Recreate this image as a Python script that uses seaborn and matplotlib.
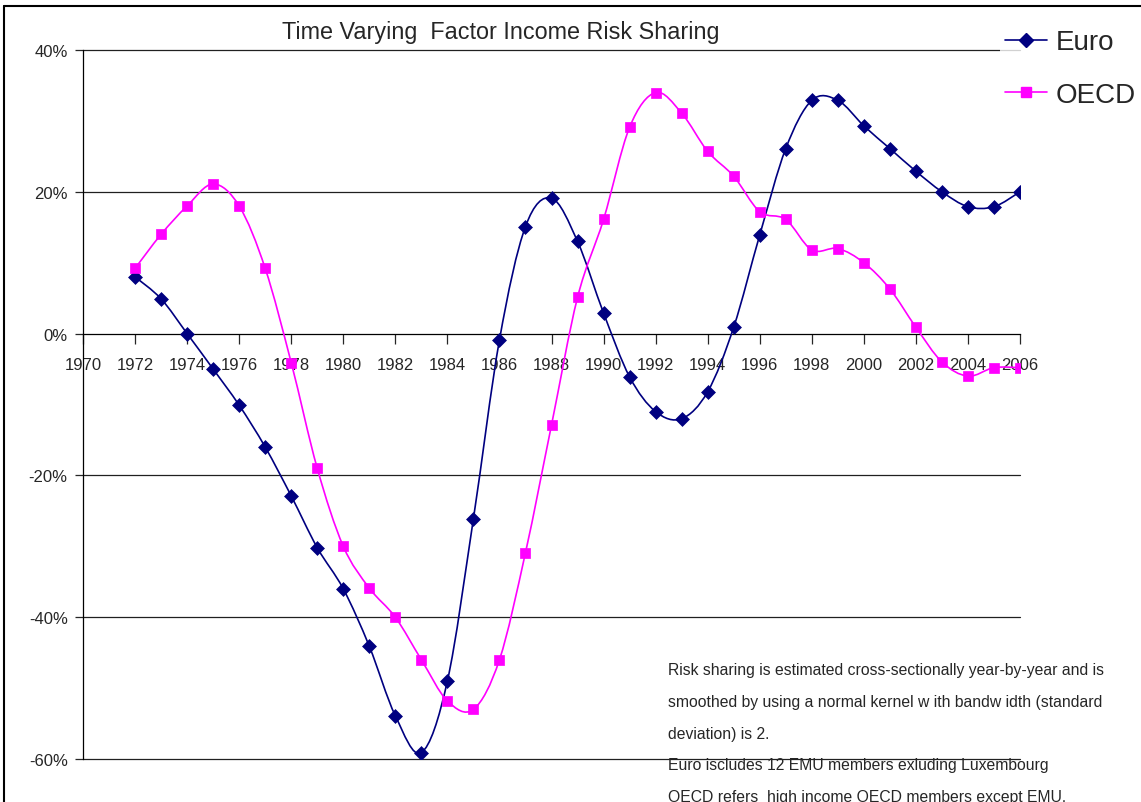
import numpy as np
import pandas as pd
import seaborn as sns
import matplotlib.pyplot as plt
from matplotlib.path import Path
from matplotlib.patches import PathPatch
from matplotlib.lines import Line2D

# ===== data (risk sharing, %) =====
years = list(range(1972, 2007))
euro = [8.0, 4.9, 0.0, -5.0, -10.1, -16.0, -22.9, -30.2, -36.0, -44.1,
        -53.9, -59.1, -49.0, -26.1, -0.9, 15.1, 19.1, 13.0, 2.9, -6.1,
        -11.0, -12.0, -8.2, 0.9, 13.9, 26.1, 32.9, 32.9, 29.3, 26.1,
        22.9, 20.0, 17.9, 17.9, 20.0]
oecd = [9.2, 14.0, 18.0, 21.1, 18.0, 9.2, -4.1, -19.0, -30.0, -35.9,
        -40.0, -46.0, -51.8, -53.0, -46.0, -30.9, -12.9, 5.1, 16.1, 29.1,
        34.0, 31.1, 25.7, 22.2, 17.2, 16.1, 11.8, 12.0, 10.0, 6.3,
        0.9, -4.0, -6.0, -4.8, -4.8]
series_names = ['Euro', 'OECD']
xtick_years = list(range(1970, 2007, 2))
ytick_values = [-60, -40, -20, 0, 20, 40]
ytick_labels = ['-60%', '-40%', '-20%', '0%', '20%', '40%']

title = 'Time Varying  Factor Income Risk Sharing'
note = ('Risk sharing is estimated cross-sectionally year-by-year and is\n'
        'smoothed by using a normal kernel w ith bandw idth (standard\n'
        'deviation) is 2.\n'
        'Euro iscludes 12 EMU members exluding Luxembourg\n'
        'OECD refers  high income OECD members except EMU.')

df = pd.DataFrame({'year': years * 2,
                   'value': euro + oecd,
                   'series': ['Euro'] * len(years) + ['OECD'] * len(years)})

colors = {'Euro': '#000080', 'OECD': '#FF00FF'}
markers = {'Euro': 'D', 'OECD': 's'}

sns.set_style('white')
plt.rcParams['font.family'] = ['Liberation Sans', 'DejaVu Sans']


def smooth_path(x, y):
    # Excel style smoothed line: cubic bezier through each point
    pts = np.column_stack([x, y]).astype(float)
    ext = np.vstack([pts[0], pts, pts[-1]])
    verts = [pts[0]]
    codes = [Path.MOVETO]
    for i in range(len(pts) - 1):
        p0, p1, p2, p3 = ext[i], ext[i + 1], ext[i + 2], ext[i + 3]
        verts += [p1 + (p2 - p0) / 6, p2 - (p3 - p1) / 6, p2]
        codes += [Path.CURVE4] * 3
    return Path(verts, codes)


fig = plt.figure(figsize=(11.41, 8.03), dpi=100)
ax = fig.add_axes([83 / 1141, 1 - 760 / 803, (1020 - 83) / 1141, (760 - 51) / 803])

for name in series_names:
    sub = df[df['series'] == name]
    ax.add_patch(PathPatch(smooth_path(sub['year'], sub['value']), fill=False,
                           edgecolor=colors[name], lw=1.2, zorder=3))
    sns.scatterplot(data=sub, x='year', y='value', ax=ax, color=colors[name],
                    marker=markers[name], s=55 if name == 'OECD' else 50,
                    edgecolor=colors[name], linewidth=0.5, zorder=4, legend=False)

ax.set_xlim(1970, 2006)
ax.set_ylim(-60, 40)
ax.set_xlabel('')
ax.set_ylabel('')

# x axis runs along the zero line
for s in ['top', 'right']:
    ax.spines[s].set_visible(False)
ax.spines['bottom'].set_position(('data', 0))
ax.spines['bottom'].set_color('black')
ax.spines['bottom'].set_linewidth(0.9)
ax.spines['left'].set_color('black')
ax.spines['left'].set_linewidth(0.9)

ax.set_yticks(ytick_values)
ax.set_yticklabels(ytick_labels, fontsize=12)
ax.set_xticks(xtick_years)
ax.set_xticklabels([str(v) for v in xtick_years], fontsize=12)

for v in [40, 20, -20, -40, -60]:
    ax.axhline(v, color='#202020', lw=0.9, zorder=1, clip_on=False)

ax.tick_params(axis='y', direction='out', length=6, width=0.9, pad=5, left=True)
ax.tick_params(axis='x', direction='out', length=7, width=0.9, pad=10, bottom=True)

fig.text(501 / 1141, 1 - 32 / 803, title, ha='center', va='center', fontsize=16.8)

handles = [Line2D([0], [0], color=colors[n], marker=markers[n], lw=1.2,
                  markersize=7, label=n) for n in series_names]
leg = fig.legend(handles=handles, loc='upper left', bbox_to_anchor=(986 / 1141, 1 - 11 / 803),
                 fontsize=20, frameon=True, handlelength=1.5, handletextpad=0.3,
                 labelspacing=0.95, borderpad=0.2)
leg.get_frame().set_facecolor('white')
leg.get_frame().set_edgecolor('none')

fig.text(668 / 1141, 1 - 663 / 803, note, ha='left', va='top', fontsize=11.3, linespacing=2.4)

# chart area border (top and left edges visible)
fig.add_artist(Line2D([4 / 1141, 1], [1 - 7 / 803, 1 - 7 / 803], color='black', lw=1.5))
fig.add_artist(Line2D([4 / 1141, 4 / 1141], [0, 1 - 7 / 803], color='black', lw=1.5))

fig.savefig('out.png', dpi=100)
